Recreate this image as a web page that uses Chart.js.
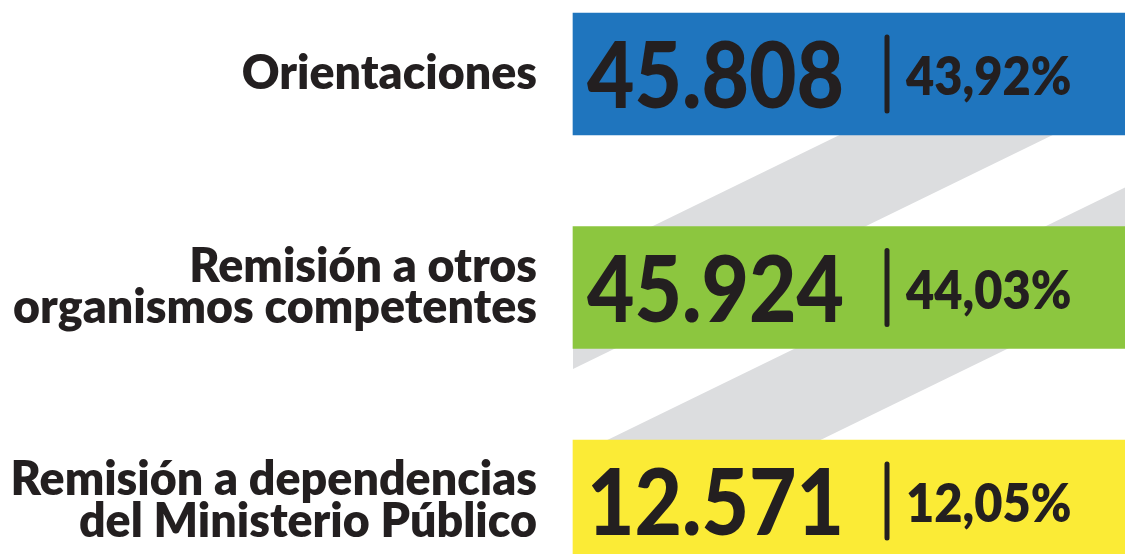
<!DOCTYPE html>
<html lang="es">
<head>
<meta charset="utf-8">
<script src="https://cdn.jsdelivr.net/npm/chart.js@4.4.0/dist/chart.umd.min.js"></script>
<style>
	html,body{margin:0;padding:0;background:#fff;}
	canvas{display:block;}
</style>
</head>
<body>
<canvas id="chart" width="1125" height="554"></canvas>
<script>
// Data read from the infographic
const categories = [
	['Orientaciones'],
	['Remisión a otros', 'organismos competentes'],
	['Remisión a dependencias', 'del Ministerio Público']
];
const counts = [45808, 45924, 12571];
const percents = [43.92, 44.03, 12.05];
const boxColors = ['#1f75be', '#8cc63f', '#fbeb36'];

const ink = '#231f20';
const stripeGray = '#dcdddf';

function fmtCount(n){ return String(n).replace(/\B(?=(\d{3})+(?!\d))/g, '.'); }
function fmtPct(p){ return p.toFixed(2).replace('.', ',') + '%'; }

// gray diagonal bands behind the boxes
const stripePlugin = {
	id: 'stripes',
	beforeDatasetsDraw(chart){
		const {ctx, chartArea} = chart;
		const meta = chart.getDatasetMeta(0);
		const left = chartArea.left, right = chart.width;
		const half = meta.data[0].height / 2;
		const yRef = meta.data[1].y - half;      // top of second box
		const top = meta.data[0].y - half, bottom = chart.height;
		const k = 2.05, w = 213;
		const starts = [79, 472];                 // band left edge at yRef, from left of boxes
		ctx.save();
		ctx.beginPath(); ctx.rect(left, top, right - left, bottom - top); ctx.clip();
		ctx.fillStyle = stripeGray;
		starts.forEach(s => {
			const x0 = left + s;
			const xa = x0 - k*(top - yRef), xb = x0 - k*(bottom - yRef);
			ctx.beginPath();
			ctx.moveTo(xa, top); ctx.lineTo(xa + w, top);
			ctx.lineTo(xb + w, bottom); ctx.lineTo(xb, bottom);
			ctx.closePath(); ctx.fill();
		});
		ctx.restore();
	}
};

// numbers, divider and percentage inside each box
const boxTextPlugin = {
	id: 'boxText',
	afterDatasetsDraw(chart){
		const {ctx, chartArea} = chart;
		const meta = chart.getDatasetMeta(0);
		const left = chartArea.left;
		meta.data.forEach((bar, i) => {
			const cy = bar.y;
			ctx.save();
			ctx.fillStyle = ink;
			ctx.textAlign = 'left';
			ctx.textBaseline = 'alphabetic';
			ctx.translate(left + 14, cy + 34);
			ctx.scale(0.9, 1);
			ctx.font = '900 91px Lato';
			ctx.fillText(fmtCount(counts[i]), 0, 0);
			ctx.restore();

			ctx.save();
			ctx.strokeStyle = ink;
			ctx.lineWidth = 5;
			ctx.lineCap = 'round';
			ctx.beginPath();
			ctx.moveTo(left + 314, cy - 37);
			ctx.lineTo(left + 314, cy + 37);
			ctx.stroke();
			ctx.restore();

			ctx.save();
			ctx.fillStyle = ink;
			ctx.translate(left + 333, cy + 21);
			ctx.scale(0.92, 1);
			ctx.font = '800 53px Lato';
			ctx.textBaseline = 'alphabetic';
			ctx.fillText(fmtPct(percents[i]), 0, 0);
			ctx.restore();
		});
	}
};

new Chart(document.getElementById('chart'), {
	type: 'bar',
	data: {
		labels: categories,
		datasets: [{
			data: counts.map(() => [0, 1]),   // every box spans the full width
			backgroundColor: boxColors,
			borderWidth: 0,
			barThickness: 122,
			clip: false
		}]
	},
	options: {
		indexAxis: 'y',
		responsive: false,
		animation: false,
		layout: { padding: { top: 74, bottom: 53, left: 0, right: 0 } },
		plugins: { legend: { display: false }, tooltip: { enabled: false } },
		scales: {
			x: { type: 'linear', min: 0, max: 1, display: false },
			y: {
				type: 'category',
				offset: false,
				grid: { display: false, drawTicks: false },
				border: { display: false },
				ticks: {
					color: ink,
					padding: 36,
					font: { family: 'Lato', weight: '800', size: 46.5, lineHeight: 0.9 }
				},
				afterFit(scale){
					scale.width = 573;
					// tick padding should not push the plot area in vertically
					scale.paddingTop = 0;
					scale.paddingBottom = 0;
				}
			}
		}
	},
	plugins: [stripePlugin, boxTextPlugin]
});
</script>
</body>
</html>
